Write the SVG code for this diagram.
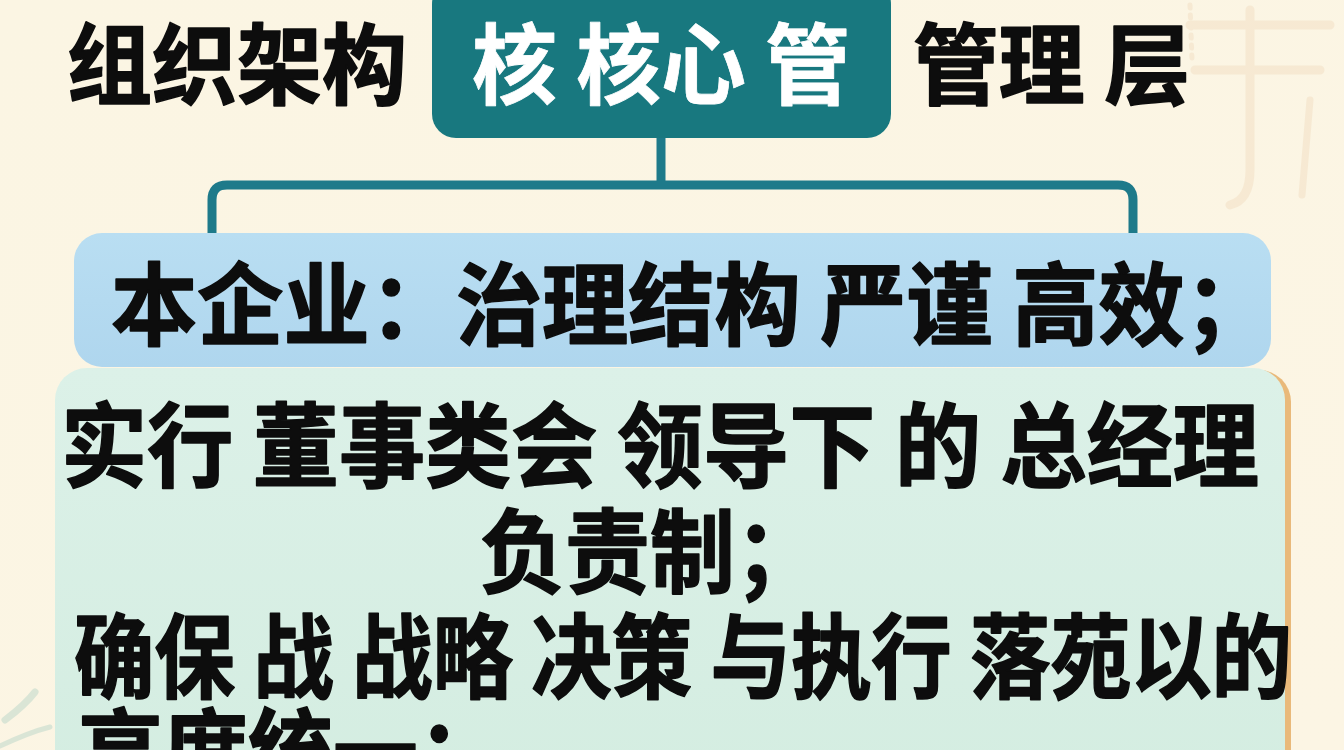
<svg xmlns="http://www.w3.org/2000/svg" width="1344" height="750" viewBox="0 0 1344 750">
  <style>
    .t { font-family: "Noto Sans CJK SC", "Noto Sans CJK JP", sans-serif; font-weight: 700; fill: #0d0d0d; stroke: #0d0d0d; stroke-width: 1.6; stroke-linejoin: round; }
    .w { fill: #ffffff; stroke: #ffffff; stroke-width: 0.8; }
    .conn { fill: none; stroke: #1e7a8a; stroke-width: 9; stroke-linecap: butt; stroke-linejoin: round; }
  </style>
  <defs>
    <linearGradient id="bg" x1="0" y1="0" x2="1" y2="1">
      <stop offset="0" stop-color="#fbf5e3"/>
      <stop offset="1" stop-color="#fcf5e4"/>
    </linearGradient>
    <linearGradient id="green" x1="0" y1="0" x2="0" y2="1">
      <stop offset="0" stop-color="#dcf1e8"/>
      <stop offset="1" stop-color="#d4ede1"/>
    </linearGradient>
    <linearGradient id="blue" x1="0" y1="0" x2="0" y2="1">
      <stop offset="0" stop-color="#b9def2"/>
      <stop offset="1" stop-color="#afd6ee"/>
    </linearGradient>
  </defs>

  <rect width="1344" height="750" fill="url(#bg)"/>
  <!-- faint decoration -->
  <g opacity="0.18" fill="none" stroke-linecap="round">
    <path d="M1190 25 L1330 25 M1250 10 L1250 170 Q1250 200 1230 205 M1195 70 L1320 70" stroke="#e2b88a" stroke-width="9"/>
    <path d="M1310 100 L1302 195" stroke="#e2b88a" stroke-width="7"/>
    <path d="M1190 5 L1192 60" stroke="#e2b88a" stroke-width="5" stroke-dasharray="3 7"/>
  </g>
  <g opacity="0.3" fill="none" stroke-linecap="round">
    <path d="M5 720 Q25 705 35 692" stroke="#8fc3b8" stroke-width="7"/>
    <path d="M0 746 Q30 732 50 727" stroke="#8fc3b8" stroke-width="5"/>
  </g>

  <g id="connectors">
    <path class="conn" d="M661 138 L661 185"/>
    <path class="conn" d="M212 234 L212 200 Q212 185 227 185 L1118 185 Q1133 185 1133 200 L1133 234"/>
  </g>

  <g id="title-left">
    <text class="t" x="67" y="97" font-size="88" textLength="340" lengthAdjust="spacingAndGlyphs">组织架构</text>
  </g>

  <g id="core">
    <rect x="432" y="-20" width="459" height="158" rx="24" fill="#18787f"/>
    <text class="t w" x="472" y="97" font-size="88" textLength="378" lengthAdjust="spacingAndGlyphs">核 核心 管</text>
  </g>

  <g id="title-right">
    <text class="t" x="913" y="97" font-size="88" textLength="277" lengthAdjust="spacingAndGlyphs">管理 层</text>
  </g>

  <g id="enterprise">
    <rect x="74" y="233" width="1197" height="134" rx="28" fill="url(#blue)"/>
    <text class="t" x="111" y="338" font-size="90" textLength="1160" lengthAdjust="spacingAndGlyphs">本企业：治理结构 严谨 高效；</text>
  </g>

  <g id="detail">
    <rect x="61" y="370" width="1230" height="420" rx="32" fill="#e9b97a"/>
    <rect x="55" y="368" width="1230" height="420" rx="32" fill="url(#green)"/>
    <text class="t" x="61" y="480" font-size="92" textLength="1198" lengthAdjust="spacingAndGlyphs">实行 董事类会 领导下 的 总经理</text>
    <text class="t" x="480" y="586" font-size="92" textLength="340" lengthAdjust="spacingAndGlyphs">负责制；</text>
    <text class="t" x="74" y="691" font-size="92" textLength="1218" lengthAdjust="spacingAndGlyphs">确保 战 战略 决策 与执行 落苑以的</text>
    <text class="t" x="78" y="786" font-size="92" textLength="425" lengthAdjust="spacingAndGlyphs">高度统一；</text>
  </g>
</svg>
